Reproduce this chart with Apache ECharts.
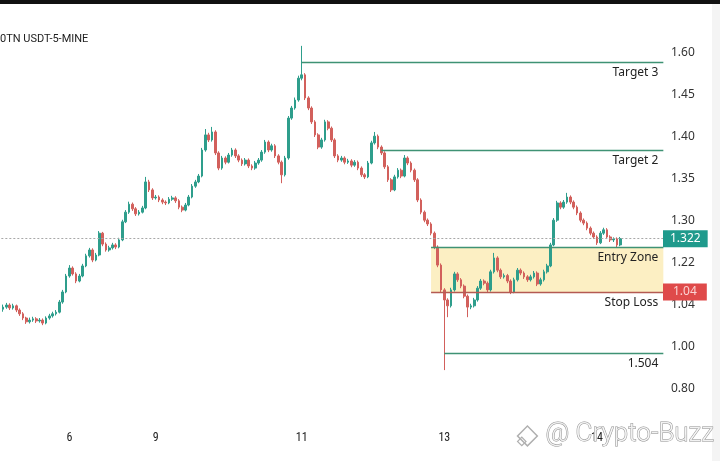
<!DOCTYPE html>
<html><head><meta charset="utf-8">
<script src="https://cdn.jsdelivr.net/npm/echarts@6/dist/echarts.min.js"></script>
<style>html,body{margin:0;padding:0;background:#fff;}#c{width:720px;height:461px;}</style>
</head><body><div id="c"></div>
<script>
// Price axis: evenly spaced ticks (value units = tick index * 100), labels as printed
const yTickLabels = ['0.80','1.00','1.04','1.22','1.30','1.35','1.40','1.45','1.60'];
// X axis: candle index of each day label
const xTickIndex = [20, 46, 90, 133, 179];
const xTickLabels = ['6', '9', '11', '13', '14'];
const slotCount = 200;

const opens = [190,195,200,193,198,188,179,169,160,164,167,162,164,157,169,174,179,183,207,231,
269,288,274,257,269,293,317,331,307,319,371,345,331,336,343,338,355,398,421,440,
429,417,421,431,493,474,455,457,450,445,443,452,455,448,433,426,438,457,483,493,
507,569,605,593,612,562,526,550,540,557,569,555,545,536,545,531,526,538,545,564,
588,569,579,555,540,510,550,645,669,688,740,748,693,669,636,605,576,593,636,621,
593,555,545,550,540,543,533,540,526,510,505,538,586,602,576,562,529,498,474,505,
521,507,550,538,521,498,450,421,402,393,371,338,295,236,212,198,236,274,260,245,
221,195,198,212,240,257,252,236,279,312,283,267,270,257,231,260,283,276,267,260,
267,276,250,260,279,293,343,402,443,433,445,457,445,433,419,402,395,383,371,362,
348,371,379,362,355,357,343];
const closes = [195,200,193,198,188,179,169,160,164,167,162,164,157,169,174,179,183,207,231,269,
288,274,257,269,293,317,331,307,319,371,345,331,336,343,338,355,398,421,440,429,
417,421,431,493,474,455,457,450,445,443,452,455,448,433,426,438,457,483,493,507,
569,605,593,612,562,526,550,540,557,569,555,545,536,545,531,526,538,545,564,588,
569,579,555,540,510,550,645,669,688,740,748,693,669,636,605,576,593,636,621,593,
555,545,550,540,543,533,540,526,510,505,538,586,602,576,562,529,498,474,505,521,
507,550,538,521,498,450,421,402,393,371,338,295,236,212,198,236,274,260,245,221,
195,198,212,240,257,252,236,279,312,283,267,270,257,231,260,283,276,267,260,267,
276,250,260,279,293,343,402,443,433,445,457,445,433,419,402,395,383,371,362,348,
371,379,362,355,357,343,358];
const lows = [184,191,188,189,183,174,164,155,156,160,157,158,152,154,165,170,175,180,203,228,
265,270,252,254,266,290,313,302,304,316,340,327,327,332,333,335,352,395,417,424,
412,413,418,428,469,450,451,445,440,438,440,448,443,428,421,423,435,454,479,490,
504,565,588,589,557,521,522,535,537,553,550,540,531,532,526,521,522,534,541,560,
564,565,550,535,490,506,546,641,665,684,735,688,664,631,600,571,572,589,616,588,
550,540,541,535,536,528,529,521,505,500,502,535,582,571,557,524,493,469,471,501,
502,504,533,516,493,445,416,397,388,366,333,290,231,45,171,194,232,255,240,216,
171,190,194,208,236,247,231,232,275,278,262,263,252,226,228,256,271,262,255,256,
263,245,246,256,275,290,340,398,428,429,441,440,428,414,397,390,378,366,357,343,
345,367,357,350,350,338,340];
const highs = [201,205,204,203,201,192,183,172,170,172,171,169,168,173,179,184,188,212,236,274,
295,292,278,274,298,322,336,335,324,376,374,349,341,348,347,360,403,426,446,444,
433,426,436,505,498,478,462,461,454,449,457,460,459,452,437,443,462,488,498,512,
574,619,610,624,616,566,555,554,562,574,573,559,549,550,549,535,543,550,569,593,
592,584,583,559,544,555,650,674,694,746,817,752,697,673,640,609,598,641,640,625,
597,559,555,554,548,547,545,544,530,514,543,591,612,606,580,566,533,502,510,526,
525,557,554,542,525,502,454,425,406,397,375,342,299,240,216,241,279,278,264,249,
225,203,217,245,262,261,256,284,324,316,287,275,274,261,265,288,287,280,271,272,
281,280,265,284,298,348,407,448,447,450,467,461,449,437,423,406,399,387,375,366,
376,384,383,366,361,361,362];

// Annotation levels (same value units as the price axis)
const target3 = 779, target2 = 569;
const entryTop = 338, stopLoss = 231, lowLevel = 86, lastPrice = 358;
const target3Start = 90, target2Start = 114, zoneStart = 129, lowStart = 133;
const lastPriceLabel = '1.322', stopLabel = '1.04', lowLabel = '1.504';

const categories = [];
for (let i = 0; i < slotCount; i++) {
  const k = xTickIndex.indexOf(i);
  categories.push(k >= 0 ? xTickLabels[k] : '');
}
const candleData = opens.map((o, i) => [o, closes[i], lows[i], highs[i]]);
const endIdx = slotCount - 1;
const green = '#3f9274', red = '#b45a52';
const txt = {color: '#222', fontSize: 12, fontFamily: 'Noto Sans'};

const chart = echarts.init(document.getElementById('c'), null, {renderer: 'canvas'});
chart.setOption({
  animation: false,
  backgroundColor: '#fff',
  grid: {left: 0, right: 55, top: 11, bottom: 30},
  xAxis: {
    type: 'category', data: categories, boundaryGap: true,
    axisLine: {show: false}, axisTick: {show: false}, splitLine: {show: false},
    axisLabel: {interval: 0, margin: 1, color: '#222', fontSize: 12, fontFamily: 'Roboto Condensed, Roboto'}
  },
  yAxis: {
    type: 'value', position: 'right', min: -100, max: 900, interval: 100,
    axisLine: {show: false}, axisTick: {show: false}, splitLine: {show: false},
    axisLabel: {margin: 6, color: '#333', fontSize: 12, fontFamily: 'Noto Sans',
      formatter: v => { const k = Math.round(v / 100); return (k >= 0 && k < yTickLabels.length) ? yTickLabels[k] : ''; }}
  },
  series: [
    {
      type: 'line', data: [], z: 1, silent: true,
      markArea: {silent: true, itemStyle: {color: '#fcefc3'},
        data: [[{coord: [zoneStart, entryTop]}, {coord: [endIdx, stopLoss]}]]}
    },
    {
      type: 'candlestick', data: candleData, z: 3, barWidth: 2.2,
      itemStyle: {color: '#2e9e8c', color0: '#d2605c', borderColor: '#2e9e8c', borderColor0: '#d2605c', borderWidth: 1},
      markLine: {
        silent: true, symbol: ['none', 'none'], animation: false,
        data: [
          {yAxis: lastPrice, lineStyle: {color: '#a8a8a8', type: [2, 2], width: 1},
            label: {show: true, position: 'end', distance: -2, formatter: lastPriceLabel, backgroundColor: '#1f9a8c',
              color: '#fff', fontSize: 12, fontFamily: 'Noto Sans', padding: [3, 7, 2, 7]}},
          {yAxis: stopLoss, lineStyle: {color: 'rgba(0,0,0,0)', width: 1},
            label: {show: true, position: 'end', distance: -2, formatter: stopLabel, backgroundColor: '#df4a4a',
              color: '#fbd3d3', fontSize: 12, fontFamily: 'Noto Sans', padding: [3, 10, 2, 10]}},
          [{coord: [target3Start, target3], lineStyle: {color: green, width: 1.3, type: 'solid'},
             label: Object.assign({show: true, position: 'insideEndBottom', formatter: 'Target 3'}, txt)},
           {coord: [endIdx, target3]}],
          [{coord: [target2Start, target2], lineStyle: {color: green, width: 1.3, type: 'solid'},
             label: Object.assign({show: true, position: 'insideEndBottom', formatter: 'Target 2'}, txt)},
           {coord: [endIdx, target2]}],
          [{coord: [zoneStart, entryTop], lineStyle: {color: green, width: 1.3, type: 'solid'},
             label: Object.assign({show: true, position: 'insideEndBottom', formatter: 'Entry Zone'}, txt)},
           {coord: [endIdx, entryTop]}],
          [{coord: [zoneStart, stopLoss], lineStyle: {color: red, width: 1.3, type: 'solid'},
             label: Object.assign({show: true, position: 'insideEndBottom', formatter: 'Stop Loss'}, txt)},
           {coord: [endIdx, stopLoss]}],
          [{coord: [lowStart, lowLevel], lineStyle: {color: green, width: 1.3, type: 'solid'},
             label: Object.assign({show: true, position: 'insideEndBottom', formatter: lowLabel}, txt)},
           {coord: [endIdx, lowLevel]}]
        ]
      }
    }
  ],
  graphic: [
    {type: 'rect', left: 0, top: 0, shape: {width: 720, height: 4}, style: {fill: '#111'}, z: 10},
    {type: 'rect', left: 712, top: 4, shape: {width: 8, height: 457}, style: {fill: '#f4f4f4'}, z: 0},
    {type: 'text', left: 0, top: 34, style: {text: '0TN USDT-5-MINE', fill: '#222', fontSize: 11, fontFamily: 'Roboto'}, z: 10},
    {type: 'group', left: 514, top: 425, z: 10, children: [
      {type: 'rect', x: 12, y: 2, rotation: Math.PI / 4, shape: {width: 14, height: 14},
        style: {fill: 'rgba(255,255,255,0.6)', stroke: '#b0b0b0', lineWidth: 1.5}},
      {type: 'rect', x: 12, y: 7.5, rotation: Math.PI / 4, shape: {width: 6, height: 6},
        style: {fill: 'none', stroke: '#b0b0b0', lineWidth: 1.2}}
    ]},
    {type: 'text', left: 545, top: 421, z: 10,
      style: {text: '@ Crypto-Buzz', fill: 'rgba(255,255,255,0.85)', stroke: '#8f8f8f', lineWidth: 1, fontSize: 26, fontFamily: 'Roboto', fontWeight: 300}}
  ]
});
</script>
</body></html>
